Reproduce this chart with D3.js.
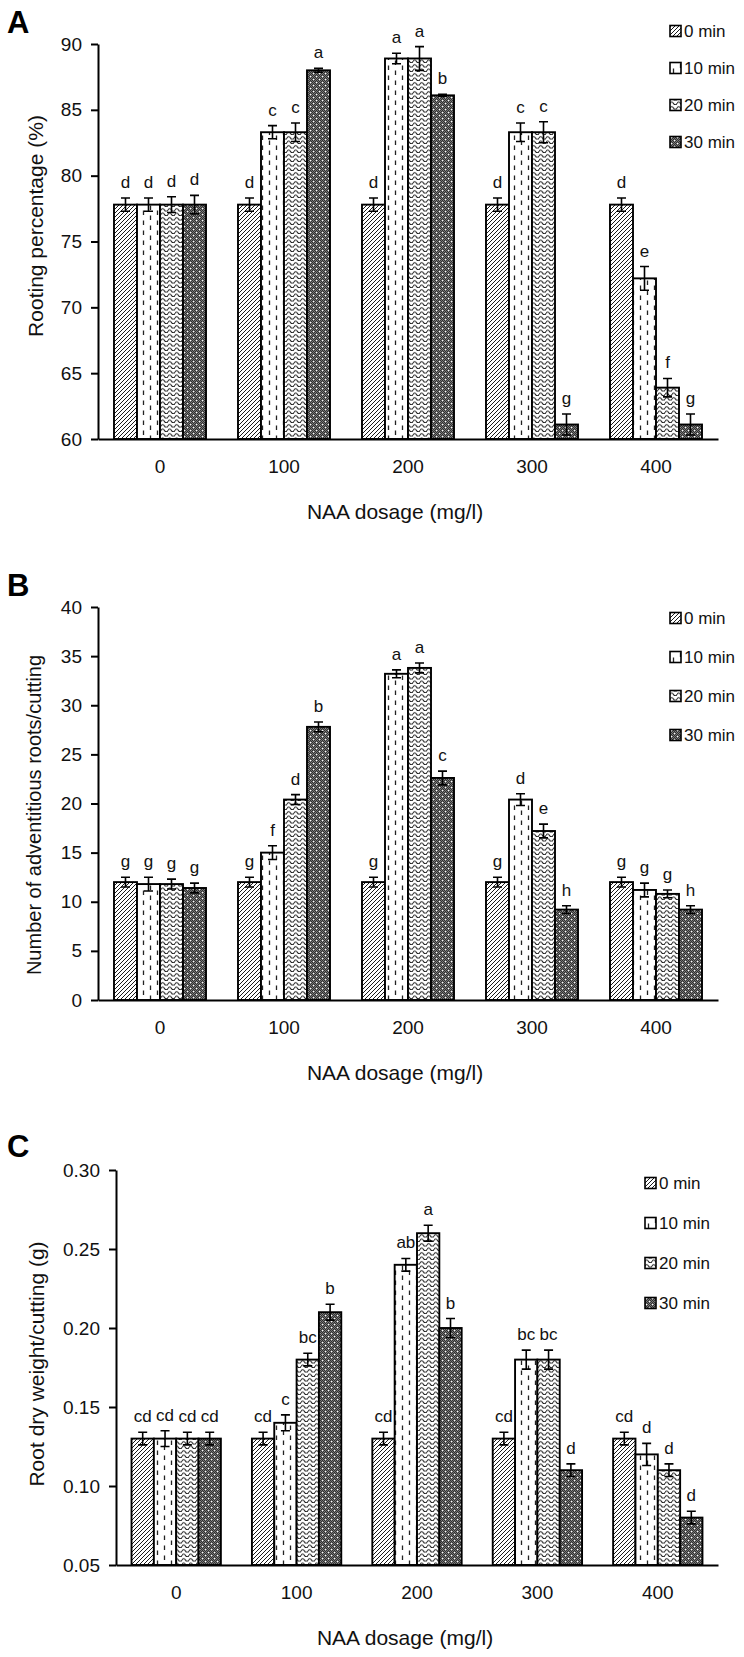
<!DOCTYPE html>
<html><head><meta charset="utf-8">
<script src="https://cdn.jsdelivr.net/npm/d3@7"></script>
<style>html,body{margin:0;padding:0;background:#fff;} svg{display:block;font-family:"Liberation Sans",Arial,sans-serif;}</style>
</head><body><svg id="c" width="744" height="1657"></svg>
<script>
const categories = ["0","100","200","300","400"];
const seriesNames = ["0 min","10 min","20 min","30 min"];
const xTitle = "NAA dosage (mg/l)";

// Panel A: rooting percentage (%) — rows: NAA dosage, cols: soaking time
const rootingMean = [
  [77.8,77.8,77.8,77.8],
  [77.8,83.3,83.3,88.0],
  [77.8,88.9,88.9,86.1],
  [77.8,83.3,83.3,61.1],
  [77.8,72.2,63.9,61.1]];
const rootingErr = [
  [0.5,0.5,0.6,0.7],
  [0.5,0.5,0.7,0.15],
  [0.5,0.4,0.9,0.08],
  [0.5,0.7,0.8,0.8],
  [0.5,0.9,0.7,0.8]];
const rootingLetters = [
  ["d","d","d","d"],["d","c","c","a"],["d","a","a","b"],["d","c","c","g"],["d","e","f","g"]];
const rootingTicks = [60,65,70,75,80,85,90];

// Panel B: number of adventitious roots/cutting
const rootsMean = [
  [12.0,11.8,11.8,11.4],
  [12.0,15.0,20.4,27.8],
  [12.0,33.2,33.8,22.6],
  [12.0,20.4,17.2,9.2],
  [12.0,11.2,10.8,9.2]];
const rootsErr = [
  [0.5,0.7,0.5,0.5],
  [0.5,0.7,0.5,0.5],
  [0.5,0.4,0.5,0.7],
  [0.5,0.6,0.7,0.4],
  [0.5,0.7,0.4,0.4]];
const rootsLetters = [
  ["g","g","g","g"],["g","f","d","b"],["g","a","a","c"],["g","d","e","h"],["g","g","g","h"]];
const rootsTicks = [0,5,10,15,20,25,30,35,40];

// Panel C: root dry weight/cutting (g)
const weightMean = [
  [0.13,0.13,0.13,0.13],
  [0.13,0.14,0.18,0.21],
  [0.13,0.24,0.26,0.20],
  [0.13,0.18,0.18,0.11],
  [0.13,0.12,0.11,0.08]];
const weightErr = [
  [0.004,0.005,0.004,0.004],
  [0.004,0.005,0.004,0.005],
  [0.004,0.004,0.005,0.006],
  [0.004,0.006,0.006,0.004],
  [0.004,0.007,0.004,0.004]];
const weightLetters = [
  ["cd","cd","cd","cd"],["cd","c","bc","b"],["cd","ab","a","b"],["cd","bc","bc","d"],["cd","d","d","d"]];
const weightTicks = [0.05,0.10,0.15,0.20,0.25,0.30];

const svg = d3.select("#c");
const defs = svg.append("defs");

// fill patterns for the four soaking times
(function(){
  let p = defs.append("pattern").attr("id","pat0").attr("patternUnits","userSpaceOnUse").attr("width",4).attr("height",4);
  p.append("rect").attr("width",4).attr("height",4).attr("fill","#fff");
  p.append("path").attr("d","M-1,1 L1,-1 M0,4 L4,0 M3,5 L5,3").attr("stroke","#1a1a1a").attr("stroke-width",1);

  p = defs.append("pattern").attr("id","pat1").attr("patternUnits","userSpaceOnUse").attr("width",14).attr("height",10);
  p.append("rect").attr("width",14).attr("height",10).attr("fill","#fff");
  p.append("path").attr("d","M3.5,0.5 V5 M10.5,5.5 V10").attr("stroke","#222").attr("stroke-width",1.3);

  p = defs.append("pattern").attr("id","pat2").attr("patternUnits","userSpaceOnUse").attr("width",7).attr("height",4.5);
  p.append("rect").attr("width",7).attr("height",4.5).attr("fill","#fff");
  p.append("path").attr("d","M0,3 Q1.75,0.2 3.5,3 Q5.25,5.8 7,3").attr("fill","none").attr("stroke","#111").attr("stroke-width",1);

  p = defs.append("pattern").attr("id","pat3").attr("patternUnits","userSpaceOnUse").attr("width",6).attr("height",6);
  p.append("rect").attr("width",6).attr("height",6).attr("fill","#767676");
  for (let i=0;i<6;i++) for (let j=0;j<6;j++) if ((i+j)%2===0)
    p.append("rect").attr("x",i).attr("y",j).attr("width",1).attr("height",1).attr("fill","#303030");
  p.append("rect").attr("x",1).attr("y",1).attr("width",1.2).attr("height",1.2).attr("fill","#fff");
  p.append("rect").attr("x",4).attr("y",4).attr("width",1.2).attr("height",1.2).attr("fill","#fff");
})();
const patIds = ["pat0","pat1","pat2","pat3"];

function drawPanel(cfg){
  const g = svg.append("g");
  const x0 = d3.scaleBand().domain(categories).range([cfg.left, cfg.right]).paddingInner(0.258).paddingOuter(0.129);
  const x1 = d3.scaleBand().domain(seriesNames).range([0, x0.bandwidth()]);
  const y = d3.scaleLinear().domain(cfg.domain).range([cfg.bottom, cfg.top]);

  const flat = [];
  categories.forEach((c,i)=>seriesNames.forEach((s,j)=>flat.push({c,s,j,v:cfg.mean[i][j],e:cfg.err[i][j],l:cfg.letters[i][j]})));

  // bars
  g.selectAll("rect.bar").data(flat).join("rect").attr("class","bar")
    .attr("x",d=>x0(d.c)+x1(d.s)).attr("width",x1.bandwidth())
    .attr("y",d=>y(d.v)).attr("height",d=>cfg.bottom-y(d.v))
    .attr("fill",d=>"url(#"+patIds[d.j]+")").attr("stroke","#000").attr("stroke-width",1.9);

  // error bars + significance letters
  const cap = 4.5;
  const eb = g.selectAll("g.eb").data(flat).join("g").attr("class","eb")
    .attr("transform",d=>`translate(${x0(d.c)+x1(d.s)+x1.bandwidth()/2},0)`);
  eb.append("path").attr("d",d=>`M0,${y(d.v+d.e)}V${y(d.v-d.e)}M${-cap},${y(d.v+d.e)}H${cap}M${-cap},${y(d.v-d.e)}H${cap}`)
    .attr("stroke","#000").attr("stroke-width",1.6).attr("fill","none");
  eb.append("text").attr("x",0).attr("y",d=>y(d.v+d.e)-10).attr("text-anchor","middle")
    .attr("font-size",17).attr("fill","#111").text(d=>d.l);

  // y axis
  const ya = g.append("g").attr("transform",`translate(${cfg.left},0)`)
    .call(d3.axisLeft(y).tickValues(cfg.ticks).tickSizeInner(7).tickSizeOuter(0).tickPadding(9).tickFormat(cfg.fmt));
  ya.select(".domain").attr("stroke","#000").attr("stroke-width",2);
  ya.selectAll(".tick line").attr("stroke","#000").attr("stroke-width",2);
  ya.selectAll(".tick text").attr("font-size",19).attr("fill","#111").attr("font-family","Liberation Sans, Arial, sans-serif");

  // x axis
  const xa = g.append("g").attr("transform",`translate(0,${cfg.bottom})`)
    .call(d3.axisBottom(x0).tickSize(0).tickPadding(21));
  xa.select(".domain").attr("stroke","#000").attr("stroke-width",2);
  xa.selectAll(".tick text").attr("font-size",19).attr("fill","#111").attr("font-family","Liberation Sans, Arial, sans-serif");

  // titles
  g.append("text").attr("x",cfg.xTitleX).attr("y",cfg.bottom+80).attr("text-anchor","middle")
    .attr("font-size",21).attr("fill","#111").text(xTitle);
  g.append("text").attr("transform",`translate(${cfg.yTitleX},${cfg.yTitleY}) rotate(-90)`)
    .attr("text-anchor","middle").attr("dominant-baseline","central")
    .attr("font-size",cfg.yTitleSize).attr("fill","#111").text(cfg.yTitle);
  g.append("text").attr("x",7).attr("y",cfg.letterY).attr("font-size",31).attr("font-weight","bold").attr("fill","#000").text(cfg.letter);

  // legend
  const lg = g.selectAll("g.lg").data(seriesNames).join("g").attr("class","lg")
    .attr("transform",(d,i)=>`translate(${cfg.legX},${cfg.legY+i*cfg.legStep})`);
  lg.append("rect").attr("x",0).attr("y",-5.5).attr("width",11).attr("height",11)
    .attr("fill",(d,i)=>"url(#"+patIds[i]+")").attr("stroke","#000").attr("stroke-width",1.6);
  lg.append("text").attr("x",14).attr("y",6).attr("font-size",17).attr("fill","#111").text(d=>d);
}

drawPanel({letter:"A",letterY:33,top:44,bottom:439,left:98,right:718,domain:[60,90],ticks:rootingTicks,fmt:d3.format("d"),
  mean:rootingMean,err:rootingErr,letters:rootingLetters,yTitle:"Rooting percentage (%)",yTitleX:35,yTitleY:226,yTitleSize:21,
  xTitleX:395,legX:670,legY:31,legStep:37});
drawPanel({letter:"B",letterY:596,top:607,bottom:1000,left:98,right:718,domain:[0,40],ticks:rootsTicks,fmt:d3.format("d"),
  mean:rootsMean,err:rootsErr,letters:rootsLetters,yTitle:"Number of adventitious roots/cutting",yTitleX:34,yTitleY:815,yTitleSize:20,
  xTitleX:395,legX:670,legY:618,legStep:39});
drawPanel({letter:"C",letterY:1157,top:1170,bottom:1565,left:116,right:718,domain:[0.05,0.30],ticks:weightTicks,fmt:d3.format(".2f"),
  mean:weightMean,err:weightErr,letters:weightLetters,yTitle:"Root dry weight/cutting (g)",yTitleX:36,yTitleY:1364,yTitleSize:21,
  xTitleX:405,legX:645,legY:1183,legStep:40});
</script></body></html>
